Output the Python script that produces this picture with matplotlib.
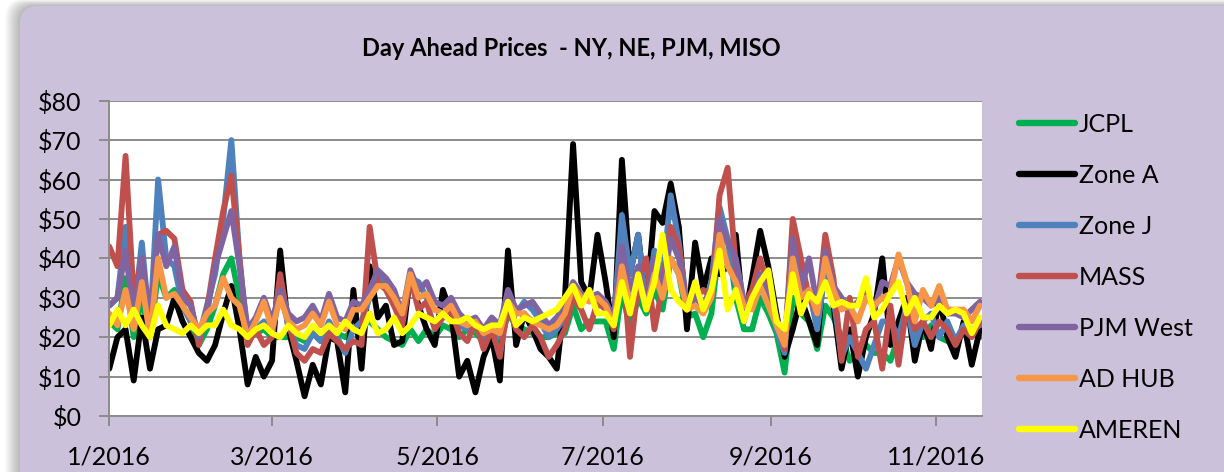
import matplotlib
matplotlib.use("Agg")
import matplotlib.pyplot as plt
import matplotlib.ticker as mticker
import matplotlib.dates as mdates
from matplotlib.patches import FancyBboxPatch
from matplotlib.transforms import IdentityTransform
import pandas as pd

plt.rcParams["font.family"] = ["Lato", "DejaVu Sans"]

# one reading every 3 days, 1 Jan 2016 .. 17 Nov 2016
dates = pd.date_range("2016-01-01", periods=108, freq="3D")

jcpl = [24, 22, 35, 20, 30, 20, 36, 30, 32, 28, 24, 18, 22, 28, 36, 40, 30, 20,
        21, 22, 20, 20, 20, 20, 19, 21, 19, 22, 21, 20, 22, 23, 24, 22, 20, 19,
        18, 22, 19, 22, 20, 23, 22, 20, 22, 21, 19, 22, 18, 26, 23, 22, 21, 20,
        20, 21, 21, 28, 22, 24, 24, 24, 17, 32, 22, 30, 26, 32, 27, 40, 36, 25,
        26, 20, 26, 44, 45, 30, 22, 22, 30, 26, 21, 11, 30, 26, 24, 17, 28, 25,
        20, 14, 17, 18, 16, 16, 14, 20, 26, 22, 20, 23, 20, 19, 20, 21, 21, 20]
zone_a = [12, 20, 22, 9, 25, 12, 22, 23, 30, 24, 20, 16, 14, 18, 26, 33, 22, 8,
          15, 10, 14, 42, 22, 14, 5, 13, 8, 20, 19, 6, 32, 12, 38, 25, 28, 18,
          19, 36, 28, 22, 18, 32, 26, 10, 14, 6, 15, 20, 9, 42, 18, 26, 22, 17,
          15, 12, 30, 69, 34, 30, 46, 34, 20, 65, 36, 46, 28, 52, 49, 59, 48, 22,
          44, 32, 40, 36, 38, 46, 24, 35, 47, 38, 26, 15, 22, 30, 24, 18, 42, 28,
          12, 22, 10, 20, 26, 40, 18, 24, 30, 14, 24, 17, 30, 20, 15, 24, 13, 22]
zone_j = [28, 30, 48, 25, 44, 22, 60, 40, 38, 28, 24, 20, 28, 36, 50, 70, 40, 20,
          22, 24, 21, 32, 23, 18, 17, 21, 19, 24, 20, 16, 22, 24, 30, 36, 33, 28,
          25, 35, 34, 30, 27, 26, 28, 23, 22, 24, 20, 24, 20, 29, 26, 29, 27, 24,
          20, 22, 25, 32, 29, 31, 28, 28, 24, 51, 36, 46, 27, 42, 35, 56, 44, 28,
          32, 27, 34, 53, 45, 33, 26, 30, 34, 31, 22, 16, 48, 31, 32, 22, 37, 30,
          15, 20, 16, 12, 18, 24, 24, 20, 28, 18, 24, 26, 20, 24, 19, 23, 22, 23]
mass = [43, 38, 66, 30, 40, 24, 46, 47, 45, 32, 29, 18, 27, 40, 52, 61, 40, 18,
        22, 18, 20, 36, 24, 16, 14, 17, 16, 21, 19, 17, 19, 18, 48, 34, 32, 28,
        23, 35, 27, 29, 22, 25, 27, 21, 19, 24, 17, 22, 15, 28, 22, 20, 23, 20,
        15, 18, 22, 30, 27, 22, 29, 27, 22, 43, 15, 34, 40, 22, 33, 48, 43, 27,
        30, 32, 30, 56, 63, 38, 28, 32, 40, 32, 25, 17, 50, 40, 30, 26, 46, 35,
        14, 30, 15, 22, 24, 12, 28, 13, 28, 22, 24, 20, 24, 22, 18, 22, 20, 24]
pjm_west = [28, 30, 42, 25, 40, 24, 46, 38, 43, 30, 28, 20, 26, 38, 45, 52, 38, 22,
            25, 30, 24, 32, 26, 24, 25, 28, 24, 31, 25, 24, 29, 28, 32, 37, 35, 32,
            26, 37, 32, 34, 29, 28, 30, 26, 24, 25, 22, 25, 23, 32, 27, 28, 29, 26,
            23, 25, 28, 34, 31, 30, 31, 29, 25, 43, 32, 38, 28, 40, 32, 45, 40, 28,
            30, 28, 32, 50, 44, 40, 29, 28, 36, 30, 24, 18, 45, 32, 40, 28, 42, 33,
            30, 27, 29, 32, 27, 34, 33, 40, 34, 31, 30, 28, 30, 26, 26, 25, 27, 29]
ad_hub = [26, 23, 32, 22, 34, 20, 40, 30, 31, 28, 25, 22, 26, 28, 35, 30, 28, 20,
          24, 29, 22, 30, 24, 22, 23, 26, 23, 29, 23, 22, 27, 27, 30, 33, 33, 30,
          26, 36, 30, 31, 27, 26, 28, 24, 23, 24, 21, 22, 21, 29, 26, 26, 24, 23,
          22, 23, 26, 33, 30, 29, 30, 28, 23, 38, 28, 35, 27, 36, 30, 40, 36, 27,
          28, 26, 30, 46, 38, 34, 28, 27, 33, 28, 23, 18, 40, 30, 32, 26, 40, 32,
          27, 28, 24, 30, 28, 30, 31, 41, 34, 24, 32, 28, 33, 27, 27, 27, 24, 28]
ameren = [23, 27, 23, 27, 23, 20, 28, 23, 22, 21, 23, 21, 23, 23, 27, 23, 22, 20,
          22, 23, 21, 20, 23, 21, 20, 23, 21, 23, 21, 24, 22, 21, 26, 21, 22, 25,
          21, 23, 26, 25, 24, 26, 24, 24, 25, 23, 22, 23, 23, 29, 23, 25, 24, 25,
          26, 27, 30, 33, 28, 32, 26, 26, 23, 34, 26, 36, 27, 34, 46, 32, 29, 27,
          34, 27, 32, 42, 27, 32, 24, 30, 34, 37, 24, 22, 36, 26, 31, 29, 34, 28,
          29, 28, 28, 35, 25, 27, 31, 34, 26, 30, 25, 25, 28, 26, 27, 26, 21, 25]

names = ["JCPL", "Zone A", "Zone J", "MASS", "PJM West", "AD HUB", "AMEREN"]
values = [jcpl, zone_a, zone_j, mass, pjm_west, ad_hub, ameren]
colors = ["#00B050", "#000000", "#4F81BD", "#C0504D", "#8064A2", "#F79646", "#FFFF00"]

fig = plt.figure(figsize=(12.24, 4.72), dpi=100)
fig.patch.set_facecolor("white")

# chart area: soft shadow + lavender rounded box (pixel coords)
for i in range(8, 0, -1):
    sh = FancyBboxPatch((20 - i * 1.8, -40), 1260, 506 + i * 0.8,
                        boxstyle="round,pad=0,rounding_size=18",
                        transform=IdentityTransform(), fc="#000000", ec="none",
                        alpha=0.035, zorder=-20)
    fig.add_artist(sh)
bg = FancyBboxPatch((20, -40), 1260, 506, boxstyle="round,pad=0,rounding_size=18",
                    transform=IdentityTransform(), fc="#CCC1DA", ec="none", zorder=-10)
fig.add_artist(bg)

ax = fig.add_axes([109.3 / 1224, 1 - 416 / 472, 872.4 / 1224, 315.3 / 472])
ax.set_facecolor("white")
ax.set_zorder(5)

lines = []
for name, vals, col in zip(names, values, colors):
    ln, = ax.plot(dates, vals, color=col, lw=4.2, label=name,
                  solid_joinstyle="round", solid_capstyle="round")
    lines.append(ln)

ax.set_ylim(0, 80)
ax.set_yticks(range(0, 81, 10))
ax.yaxis.set_major_formatter(mticker.FuncFormatter(lambda v, p: f"${v:.0f}"))
ax.set_xlim(pd.Timestamp("2016-01-01"), pd.Timestamp("2016-11-17 16:00"))
ax.xaxis.set_major_locator(mdates.MonthLocator(bymonth=[1, 3, 5, 7, 9, 11]))
ax.xaxis.set_major_formatter(mticker.FuncFormatter(
    lambda v, p: f"{mdates.num2date(v).month}/{mdates.num2date(v).year}"))

ax.yaxis.grid(True, color="#8C8C8C", lw=1.4)
ax.set_axisbelow(True)
for s in ["top", "right"]:
    ax.spines[s].set_visible(False)
for s in ["left", "bottom"]:
    ax.spines[s].set_color("#8C8C8C")
    ax.spines[s].set_linewidth(1.4)
ax.tick_params(axis="both", direction="out", length=7, width=1.4, color="#8C8C8C",
               labelsize=18, labelcolor="black")
ax.tick_params(axis="y", pad=13)
ax.tick_params(axis="x", pad=14)

fig.text(571 / 1224, 1 - 48 / 472, "Day Ahead Prices  - NY, NE, PJM, MISO",
         ha="center", va="center", fontsize=17, fontweight="bold")

leg = fig.legend(lines, names, loc="upper left", bbox_to_anchor=(1019 / 1224, 1 - 113 / 472),
                 frameon=False, fontsize=18, handlelength=2.25, handletextpad=0.15,
                 labelspacing=1.12, borderaxespad=0, borderpad=0)
for h in leg.get_lines():
    h.set_linewidth(4.6)

fig.savefig("out.png", dpi=100, facecolor=fig.get_facecolor())
